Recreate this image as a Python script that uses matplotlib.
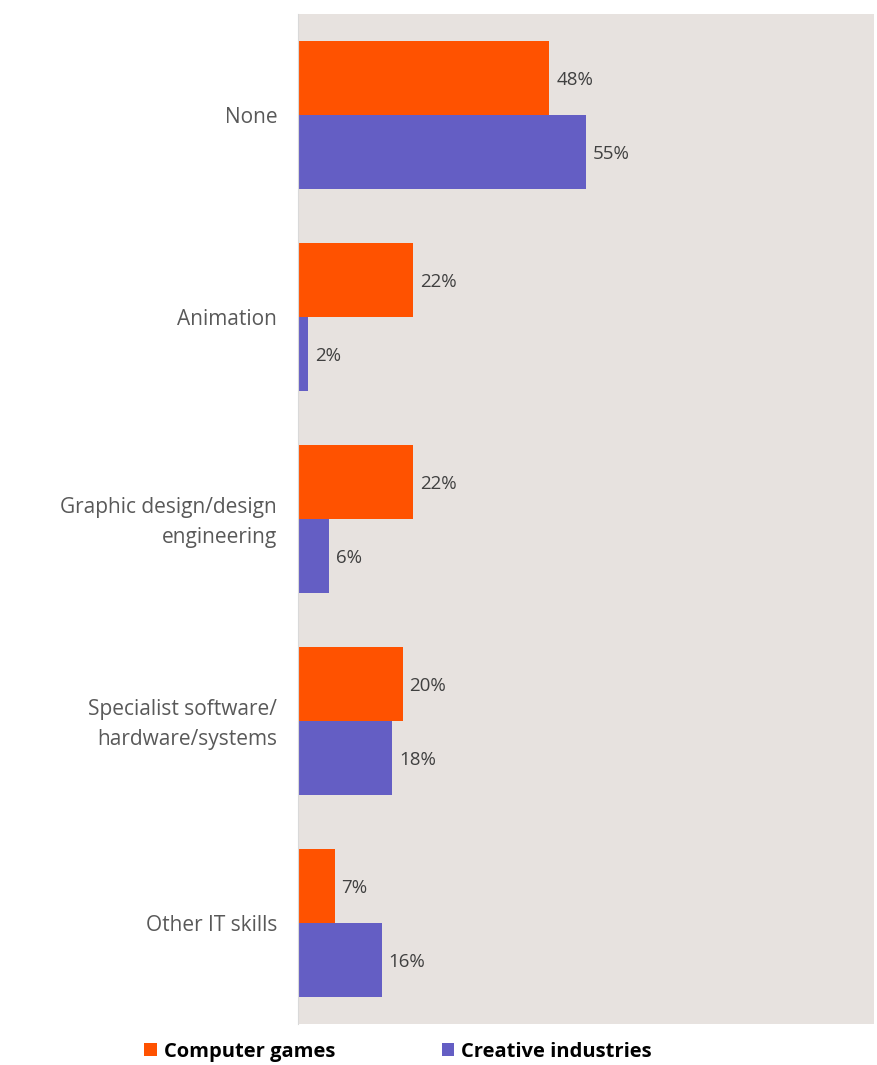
import numpy as np
import matplotlib
matplotlib.use("Agg")
import matplotlib.pyplot as plt
from matplotlib.patches import Patch

plt.rcParams["font.family"] = ["Open Sans", "DejaVu Sans"]

categories = ["None", "Animation", "Graphic design/design\nengineering",
              "Specialist software/\nhardware/systems", "Other IT skills"]
games = [48, 22, 22, 20, 7]
creative = [55, 2, 6, 18, 16]
series_names = ["Computer games", "Creative industries"]

ORANGE = "#ff5200"
PURPLE = "#645ec4"
BG = "#e7e2df"

fig = plt.figure(figsize=(8.77, 10.65), dpi=100)
ax = fig.add_axes([298 / 877, 1 - 1024 / 1065, 576 / 877, 1010 / 1065])
ax.set_facecolor(BG)

y = np.arange(len(categories))
h = 0.366
ax.barh(y - h / 2, games, height=h, color=ORANGE, label=series_names[0])
ax.barh(y + h / 2, creative, height=h, color=PURPLE, label=series_names[1])

for yi, g, c in zip(y, games, creative):
    ax.text(g + 1.3, yi - h / 2 + 0.01, f"{g}%", va="center", ha="left",
            fontsize=13.5, color="#404040")
    ax.text(c + 1.3, yi + h / 2 + 0.01, f"{c}%", va="center", ha="left",
            fontsize=13.5, color="#404040")

ax.set_xlim(0, 110)
ax.set_ylim(len(categories) - 0.5, -0.5)
ax.set_yticks(y)
ax.set_yticklabels(categories, fontsize=15, color="#595959", linespacing=1.6)
ax.tick_params(axis="y", length=0, pad=15)
for lbl in ax.get_yticklabels():
    if "\n" in lbl.get_text():
        lbl.set_y(lbl.get_position()[1])
        lbl.set_transform(lbl.get_transform() + matplotlib.transforms.Affine2D().translate(0, 4))
ax.set_xticks([])
for side in ("top", "right", "bottom"):
    ax.spines[side].set_visible(False)
ax.spines["left"].set_color("#d9d9d9")
ax.spines["left"].set_linewidth(0.8)

handles = [Patch(facecolor=ORANGE), Patch(facecolor=PURPLE)]
fig.legend(handles, series_names, loc="center", bbox_to_anchor=(398 / 877, 1 - 1052 / 1065),
           ncol=2, frameon=False, handlelength=0.62, handleheight=0.62, handletextpad=0.35,
           columnspacing=5.3, prop={"weight": "bold", "size": 14.5})

fig.savefig("out.png", dpi=100, facecolor="white")
